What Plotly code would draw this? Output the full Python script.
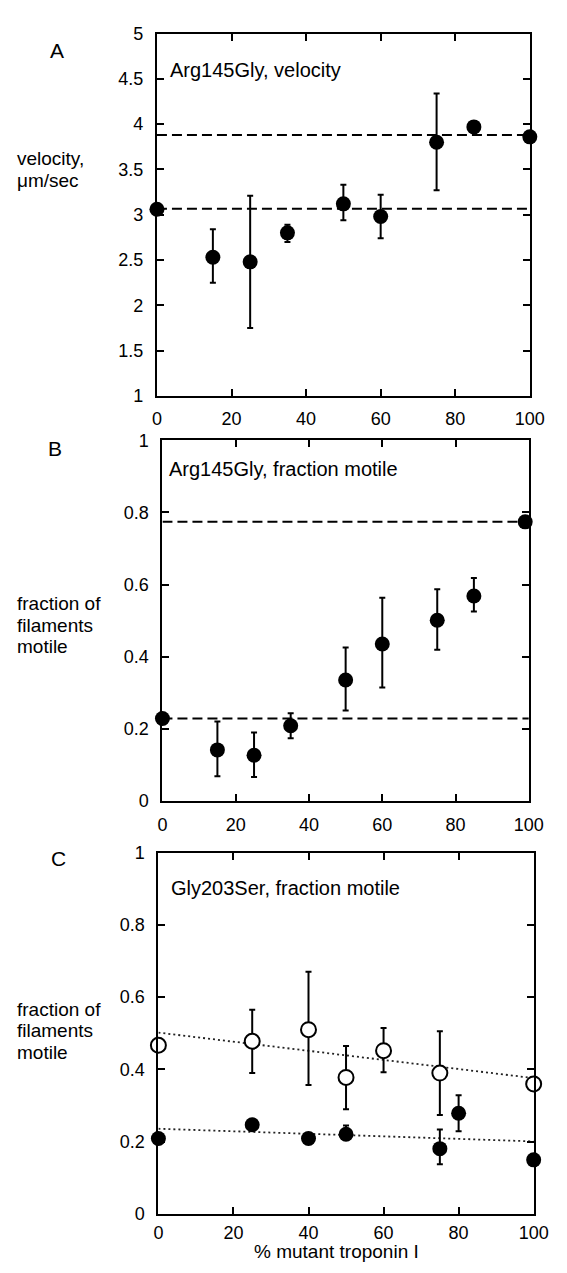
import plotly.graph_objects as go

# ---------------- data ----------------
pct_ticks = [0, 20, 40, 60, 80, 100]

# Panel A: Arg145Gly, velocity
a_x = [0, 15, 25, 35, 50, 60, 75, 85, 100]
a_y = [3.06, 2.53, 2.48, 2.80, 3.12, 2.98, 3.80, 3.97, 3.86]
a_hi = [3.06, 2.84, 3.21, 2.89, 3.33, 3.22, 4.34, 4.03, 3.86]
a_lo = [3.06, 2.25, 1.75, 2.70, 2.94, 2.74, 3.27, 3.91, 3.86]
a_ref = [3.067, 3.88]
a_yticks = [1, 1.5, 2, 2.5, 3, 3.5, 4, 4.5, 5]
a_yticktext = ["1", "1.5", "2", "2.5", "3", "3.5", "4", "4.5", "5"]

# Panel B: Arg145Gly, fraction motile
b_x = [0, 15, 25, 35, 50, 60, 75, 85, 99]
b_y = [0.228, 0.141, 0.126, 0.208, 0.335, 0.435, 0.501, 0.568, 0.774]
b_hi = [0.228, 0.220, 0.189, 0.243, 0.425, 0.563, 0.587, 0.618, 0.774]
b_lo = [0.228, 0.068, 0.066, 0.173, 0.250, 0.314, 0.419, 0.525, 0.774]
b_ref = [0.228, 0.774]

# Panel C: Gly203Ser, fraction motile
c_open_x = [0, 25, 40, 50, 60, 75, 100]
c_open_y = [0.467, 0.478, 0.510, 0.378, 0.452, 0.390, 0.360]
c_open_hi = [0.467, 0.565, 0.670, 0.465, 0.515, 0.506, 0.360]
c_open_lo = [0.467, 0.390, 0.357, 0.290, 0.392, 0.274, 0.360]
c_fill_x = [0, 25, 40, 50, 75, 80, 100]
c_fill_y = [0.209, 0.247, 0.209, 0.221, 0.181, 0.279, 0.150]
c_fill_hi = [0.209, 0.247, 0.209, 0.245, 0.234, 0.329, 0.150]
c_fill_lo = [0.209, 0.247, 0.209, 0.205, 0.138, 0.229, 0.150]
fit_x = [0, 100]
fit_open = [0.502, 0.376]
fit_fill = [0.236, 0.201]

frac_yticks = [0, 0.2, 0.4, 0.6, 0.8, 1]
frac_yticktext = ["0", "0.2", "0.4", "0.6", "0.8", "1"]

# ---------------- layout helpers ----------------
W, H = 567, 1273
FONT = "Liberation Sans, Arial, Helvetica, sans-serif"


def px_x(p):
    return p / W


def px_y(p):
    return 1 - p / H


panels = {
    # left, right, top, bottom in pixels
    "A": (157.5, 544.0, 24.0, 392.0),
    "B": (163.2, 543.0, 437.3, 803.3),
    "C": (159.0, 548.0, 856.0, 1223.3),
}

fig = go.Figure()

marker_fill = dict(size=15, color="black", line=dict(width=0))
marker_open = dict(size=15, color="white", line=dict(width=2, color="black"))


def err(y, hi, lo):
    return dict(type="data", symmetric=False,
                array=[h - v for h, v in zip(hi, y)],
                arrayminus=[v - l for v, l in zip(y, lo)],
                color="black", thickness=2, width=3)


dash_line = dict(color="black", width=2, dash="10px,5px")
dot_line = dict(color="#222", width=1.8, dash="2px,3px")

# Panel A
for r in a_ref:
    fig.add_trace(go.Scatter(x=[0, 100], y=[r, r], mode="lines", line=dash_line,
                             xaxis="x", yaxis="y", showlegend=False, hoverinfo="skip"))
fig.add_trace(go.Scatter(x=a_x, y=a_y, mode="markers", marker=marker_fill,
                         error_y=err(a_y, a_hi, a_lo), cliponaxis=False,
                         xaxis="x", yaxis="y", showlegend=False))

# Panel B
for r in b_ref:
    fig.add_trace(go.Scatter(x=[0, 100], y=[r, r], mode="lines", line=dash_line,
                             xaxis="x2", yaxis="y2", showlegend=False, hoverinfo="skip"))
fig.add_trace(go.Scatter(x=b_x, y=b_y, mode="markers", marker=marker_fill,
                         error_y=err(b_y, b_hi, b_lo), cliponaxis=False,
                         xaxis="x2", yaxis="y2", showlegend=False))

# Panel C
fig.add_trace(go.Scatter(x=fit_x, y=fit_open, mode="lines", line=dot_line,
                         xaxis="x3", yaxis="y3", showlegend=False, hoverinfo="skip"))
fig.add_trace(go.Scatter(x=fit_x, y=fit_fill, mode="lines", line=dot_line,
                         xaxis="x3", yaxis="y3", showlegend=False, hoverinfo="skip"))
fig.add_trace(go.Scatter(x=c_open_x, y=c_open_y, mode="markers", marker=marker_open,
                         error_y=err(c_open_y, c_open_hi, c_open_lo), cliponaxis=False,
                         xaxis="x3", yaxis="y3", showlegend=False))
fig.add_trace(go.Scatter(x=c_fill_x, y=c_fill_y, mode="markers", marker=marker_fill,
                         error_y=err(c_fill_y, c_fill_hi, c_fill_lo), cliponaxis=False,
                         xaxis="x3", yaxis="y3", showlegend=False))

axis_common = dict(showline=True, linewidth=2, linecolor="black", mirror="ticks",
                   ticks="inside", ticklen=7, tickwidth=2, tickcolor="black",
                   showgrid=False, zeroline=False, fixedrange=True,
                   tickfont=dict(family=FONT, size=18, color="black"),
                   ticklabelstandoff=8)

layout_axes = {}
for key, (xa, ya, yr, yt, ytt, xstand) in {
    "A": ("xaxis", "yaxis", [1, 5], a_yticks, a_yticktext, 6),
    "B": ("xaxis2", "yaxis2", [0, 1], frac_yticks, frac_yticktext, 7),
    "C": ("xaxis3", "yaxis3", [0, 1], frac_yticks, frac_yticktext, 1),
}.items():
    l, r, t, b = panels[key]
    yname = ya.replace("axis", "")
    xname = xa.replace("axis", "")
    layout_axes[xa] = dict(axis_common, domain=[px_x(l), px_x(r)], range=[0, 100],
                           tickvals=pct_ticks, ticktext=[str(v) for v in pct_ticks],
                           anchor=yname, ticklabelstandoff=xstand)
    layout_axes[ya] = dict(axis_common, domain=[px_y(b), px_y(t)], range=yr,
                           tickvals=yt, ticktext=ytt, anchor=xname)

annotations = []


def ann(text, x, y, size=19, xanchor="left", yanchor="middle"):
    annotations.append(dict(text=text, x=px_x(x), y=px_y(y), xref="paper", yref="paper",
                            showarrow=False, xanchor=xanchor, yanchor=yanchor,
                            borderpad=0,
                            font=dict(family=FONT, size=size, color="black")))


ann("A", 54, 41, size=21, xanchor="center")
ann("B", 52, 446, size=21, xanchor="center")
ann("C", 55.5, 862, size=21, xanchor="center")

ann("Arg145Gly, velocity", 170, 61, size=20)
ann("Arg145Gly, fraction motile", 169, 466, size=20)
ann("Gly203Ser, fraction motile", 171, 892, size=20)

ann("velocity,", 11, 151)
ann("μm/sec", 11, 173)
for yy, txt in zip([603, 625, 647], ["fraction of", "filaments", "motile"]):
    ann(txt, 11, yy)
for yy, txt in zip([1015, 1037, 1059], ["fraction of", "filaments", "motile"]):
    ann(txt, 11, yy)

ann("% mutant troponin I", 343.5, 1273, size=19, xanchor="center", yanchor="bottom")

fig.update_layout(width=W, height=H, margin=dict(l=0, r=0, t=0, b=0),
                  paper_bgcolor="white", plot_bgcolor="white",
                  showlegend=False, annotations=annotations, **layout_axes)

fig.write_html("out.html", config={"displayModeBar": False})
